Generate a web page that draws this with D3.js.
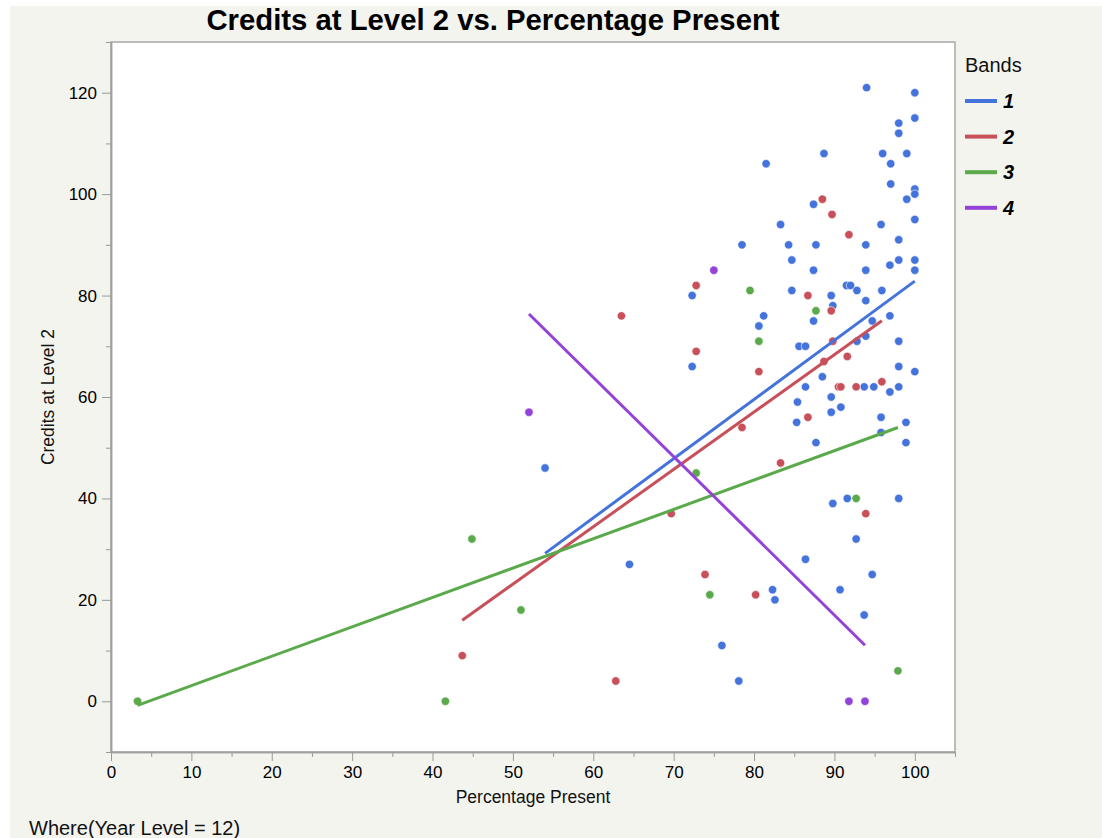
<!DOCTYPE html>
<html>
<head>
<meta charset="utf-8">
<script src="https://cdn.jsdelivr.net/npm/d3@7"></script>
<style>
  body { margin: 0; background: #fff; }
  svg { display: block; font-family: "Liberation Sans", Arial, sans-serif; }
</style>
</head>
<body>
<svg id="chart" width="1102" height="838"></svg>
<script>
// Credits at Level 2 vs. Percentage Present (Year Level 12)

// [percentage present, credits at level 2] per band
var band1 = [[94,121],[100,120],[100,115],[98,114],[98,112],[88.7,108],[96,108],[99,108],[81.5,106],[97,106],
  [97,102],[100,101],[100,100],[99,99],[87.4,98],[100,95],[83.3,94],[95.8,94],[98,91],[78.5,90],[84.3,90],
  [87.7,90],[93.9,90],[84.7,87],[96.9,86],[98,87],[100,87],[87.4,85],[93.9,85],[100,85],[72.3,80],[84.7,81],
  [91.5,82],[92,82],[92.8,81],[95.9,81],[89.6,80],[93.9,79],[89.8,78],[81.2,76],[96.9,76],[80.6,74],[87.4,75],
  [94.7,75],[92.8,71],[93.9,72],[98,71],[85.6,70],[86.4,70],[72.3,66],[98,66],[100,65],[88.5,64],[86.4,62],
  [93.7,62],[94.9,62],[98,62],[96.9,61],[89.6,60],[85.4,59],[90.8,58],[89.6,57],[95.8,56],[85.3,55],[98.9,55],
  [95.8,53],[87.7,51],[98.9,51],[54,46],[89.8,39],[91.6,40],[98,40],[92.7,32],[86.4,28],[64.5,27],[94.7,25],
  [82.3,22],[82.6,20],[90.7,22],[93.7,17],[76,11],[78.1,4]];
var band2 = [[88.5,99],[89.7,96],[91.8,92],[72.8,82],[86.7,80],[89.6,77],[63.5,76],[89.8,71],[72.8,69],[91.6,68],
  [88.7,67],[80.6,65],[95.9,63],[90.5,62],[90.8,62],[92.7,62],[86.7,56],[78.5,54],[83.3,47],[69.7,37],[93.9,37],
  [73.9,25],[80.2,21],[43.7,9],[62.8,4]];
var band3 = [[3.3,0],[41.6,0],[44.9,32],[51,18],[72.8,45],[74.5,21],[79.5,81],[80.6,71],[87.7,77],[92.7,40],[97.9,6]];
var band4 = [[52,57],[75,85],[91.8,0],[93.8,0]];

var bandNames = ['1', '2', '3', '4'];
var bandColors = ['#4573dc', '#c8505a', '#5aaa4c', '#9443d8'];
var bands = [band1, band2, band3, band4];

var xMajor = d3.range(0, 101, 10);
var xMinor = d3.range(5, 106, 10);
var yMajor = d3.range(0, 121, 20);
var yMinor = d3.range(-10, 131, 20);

var svg = d3.select('#chart');

// panel background
svg.append('rect').attr('x', 10).attr('y', 6).attr('width', 1092).attr('height', 832).attr('fill', '#f4f4ef');

var x = d3.scaleLinear().domain([0, 105]).range([111, 955]);
var y = d3.scaleLinear().domain([-10, 130]).range([752, 42]);

// plot frame
svg.append('rect')
  .attr('x', x(0)).attr('y', y(130))
  .attr('width', x(105) - x(0)).attr('height', y(-10) - y(130))
  .attr('fill', '#fff').attr('stroke', '#a8a8a8').attr('stroke-width', 1.5);

// axes
function styleAxis(g) {
  g.select('.domain').attr('stroke', '#a0a0a0').attr('stroke-width', 1.5);
  g.selectAll('.tick line').attr('stroke', '#999');
  g.selectAll('.tick text').attr('fill', '#000').style('font-size', '17px');
}

svg.append('g').attr('transform', 'translate(0,' + y(-10) + ')')
  .call(d3.axisBottom(x).tickValues(xMinor).tickSize(5).tickFormat('').tickSizeOuter(0))
  .call(styleAxis);
svg.append('g').attr('transform', 'translate(0,' + y(-10) + ')')
  .call(d3.axisBottom(x).tickValues(xMajor).tickSize(9).tickPadding(5).tickSizeOuter(0))
  .call(styleAxis);

svg.append('g').attr('transform', 'translate(' + x(0) + ',0)')
  .call(d3.axisLeft(y).tickValues(yMinor).tickSize(5).tickFormat('').tickSizeOuter(0))
  .call(styleAxis);
svg.append('g').attr('transform', 'translate(' + x(0) + ',0)')
  .call(d3.axisLeft(y).tickValues(yMajor).tickSize(9).tickPadding(5).tickSizeOuter(0))
  .call(styleAxis);

// fit lines (least squares per band, drawn over the band's x range)
function fit(pts) {
  var mx = d3.mean(pts, function(d) { return d[0]; });
  var my = d3.mean(pts, function(d) { return d[1]; });
  var sxy = d3.sum(pts, function(d) { return (d[0] - mx) * (d[1] - my); });
  var sxx = d3.sum(pts, function(d) { return (d[0] - mx) * (d[0] - mx); });
  var b = sxy / sxx;
  var ext = d3.extent(pts, function(d) { return d[0]; });
  return ext.map(function(v) { return [v, my + b * (v - mx)]; });
}

var line = d3.line().x(function(d) { return x(d[0]); }).y(function(d) { return y(d[1]); });

// points
bands.forEach(function(pts, i) {
  svg.append('g').selectAll('circle')
    .data(pts)
    .enter().append('circle')
    .attr('cx', function(d) { return x(d[0]); })
    .attr('cy', function(d) { return y(d[1]); })
    .attr('r', 4.2)
    .attr('fill', bandColors[i])
    .attr('stroke', '#fff').attr('stroke-width', 0.6);
});

bands.forEach(function(pts, i) {
  svg.append('path')
    .attr('d', line(fit(pts)))
    .attr('fill', 'none')
    .attr('stroke', bandColors[i])
    .attr('stroke-width', 3);
});

// titles
svg.append('text').attr('x', 493).attr('y', 30).attr('text-anchor', 'middle')
  .style('font-size', '29.3px').style('font-weight', 'bold').attr('fill', '#000')
  .text('Credits at Level 2 vs. Percentage Present');

svg.append('text').attr('x', (x(0) + x(105)) / 2).attr('y', 803).attr('text-anchor', 'middle')
  .style('font-size', '17.5px').attr('fill', '#111').text('Percentage Present');

svg.append('text')
  .attr('transform', 'translate(54,' + ((y(-10) + y(130)) / 2) + ') rotate(-90)')
  .attr('text-anchor', 'middle')
  .style('font-size', '17.5px').attr('fill', '#111').text('Credits at Level 2');

svg.append('text').attr('x', 29).attr('y', 835)
  .style('font-size', '20px').attr('fill', '#111').text('Where(Year Level = 12)');

// legend
var legend = svg.append('g').attr('transform', 'translate(965,0)');
legend.append('text').attr('x', 0).attr('y', 72).style('font-size', '20px').attr('fill', '#111').text('Bands');

var items = legend.selectAll('.item').data(bandNames)
  .enter().append('g')
  .attr('class', 'item')
  .attr('transform', function(d, i) { return 'translate(0,' + (101 + i * 35.6) + ')'; });
items.append('line').attr('x1', 0).attr('x2', 32).attr('y1', 0).attr('y2', 0)
  .attr('stroke', function(d, i) { return bandColors[i]; }).attr('stroke-width', 4);
items.append('text').attr('x', 38).attr('y', 7)
  .style('font-size', '20px').style('font-weight', 'bold').style('font-style', 'italic')
  .attr('fill', '#000').text(function(d) { return d; });
</script>
</body>
</html>
